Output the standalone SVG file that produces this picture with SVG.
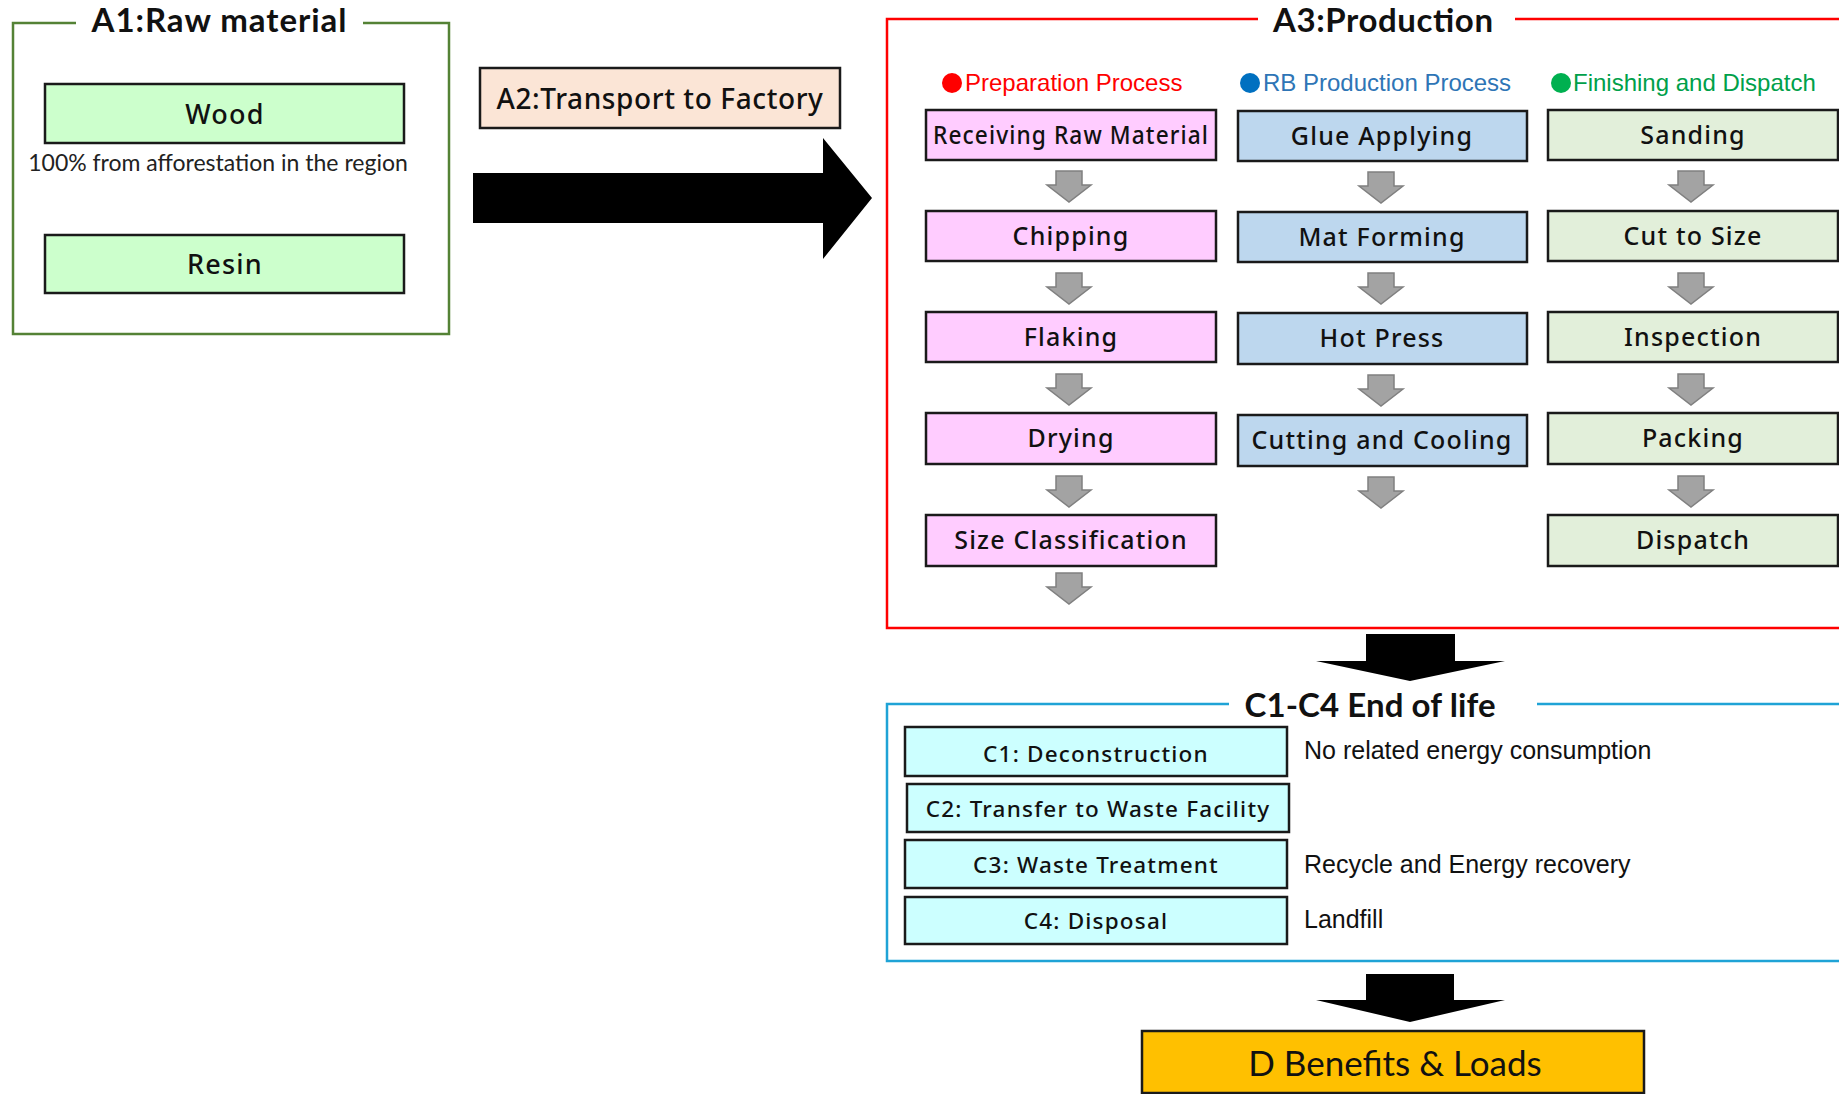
<svg xmlns="http://www.w3.org/2000/svg" width="1839" height="1094" viewBox="0 0 1839 1094">
<style>
.box{stroke:#1a1a1a;stroke-width:2.5}
.lbl{font-family:"Noto Sans","Open Sans",sans-serif;font-size:25px;letter-spacing:1.2px;fill:#111;text-anchor:middle;font-weight:500}
.clbl{font-size:22.5px}
.ttl{font-family:Lato,"Open Sans",sans-serif;font-size:33px;font-weight:bold;fill:#111}
.hdr{font-family:"Liberation Sans",Arial,sans-serif;font-size:24px}
.note{font-family:"Liberation Sans",Arial,sans-serif;font-size:25px;fill:#111}
.garrow{fill:#a3a3a3;stroke:#808080;stroke-width:1.5}
.pink{fill:#ffccff}.blue{fill:#bdd7ee}.grn{fill:#e2efda}.lg{fill:#ccffcc}.cyan{fill:#ccffff}
</style>
<defs>
<path id="ga" class="garrow" d="M-13,0 H13 V14 H22 L0,31 L-22,14 H-13 Z"/>
</defs>
<rect width="1839" height="1094" fill="#fff"/>

<g id="A1">
<path d="M76,23 H13 V334 H449 V23 H363" fill="none" stroke="#548235" stroke-width="2.5"/>
<text class="ttl" x="219" y="32" text-anchor="middle" textLength="255">A1:Raw material</text>
<g id="wood"><rect class="box lg" x="45" y="84" width="359" height="59"/><text class="lbl" x="225" y="124" style="font-size:27px">Wood</text></g>
<text x="218" y="171" text-anchor="middle" style="font-family:Lato,'Open Sans',sans-serif;font-size:23px;fill:#222">100% from afforestation in the region</text>
<g id="resin"><rect class="box lg" x="45" y="235" width="359" height="58"/><text class="lbl" x="225" y="274" style="font-size:27px">Resin</text></g>
</g>

<g id="A2">
<rect class="box" fill="#fbe5d6" x="480" y="68" width="360" height="60"/>
<text class="lbl" x="660" y="109" style="font-size:28px;letter-spacing:0.6px">A2:Transport to Factory</text>
</g>

<g id="A3">
<path d="M1258,19 H887 V628 H1839 M1515,19 H1839" fill="none" stroke="#ff0000" stroke-width="2.5"/>
<text class="ttl" x="1383" y="32" text-anchor="middle" textLength="220">A3:Production</text>
<circle cx="952" cy="83" r="10" fill="#ff0000"/>
<text class="hdr" x="965" y="91" fill="#ff0000">Preparation Process</text>
<circle cx="1250" cy="83" r="10" fill="#0070c0"/>
<text class="hdr" x="1263" y="91" fill="#2e75b6">RB Production Process</text>
<circle cx="1561" cy="83" r="10" fill="#00b050"/>
<text class="hdr" x="1573" y="91" fill="#00a04a">Finishing and Dispatch</text>

<g id="p1"><rect class="box pink" x="926" y="110" width="290" height="50"/><text class="lbl" x="1071" y="144" textLength="276" lengthAdjust="spacingAndGlyphs">Receiving Raw Material</text></g>
<g id="p2"><rect class="box pink" x="926" y="211" width="290" height="50"/><text class="lbl" x="1071" y="245">Chipping</text></g>
<g id="p3"><rect class="box pink" x="926" y="312" width="290" height="50"/><text class="lbl" x="1071" y="346">Flaking</text></g>
<g id="p4"><rect class="box pink" x="926" y="413" width="290" height="51"/><text class="lbl" x="1071" y="447">Drying</text></g>
<g id="p5"><rect class="box pink" x="926" y="515" width="290" height="51"/><text class="lbl" x="1071" y="549">Size Classification</text></g>

<g id="b1"><rect class="box blue" x="1238" y="111" width="289" height="50"/><text class="lbl" x="1382" y="145">Glue Applying</text></g>
<g id="b2"><rect class="box blue" x="1238" y="212" width="289" height="50"/><text class="lbl" x="1382" y="246">Mat Forming</text></g>
<g id="b3"><rect class="box blue" x="1238" y="313" width="289" height="51"/><text class="lbl" x="1382" y="347">Hot Press</text></g>
<g id="b4"><rect class="box blue" x="1238" y="415" width="289" height="51"/><text class="lbl" x="1382" y="449">Cutting and Cooling</text></g>

<g id="g1"><rect class="box grn" x="1548" y="110" width="290" height="50"/><text class="lbl" x="1693" y="144">Sanding</text></g>
<g id="g2"><rect class="box grn" x="1548" y="211" width="290" height="50"/><text class="lbl" x="1693" y="245">Cut to Size</text></g>
<g id="g3"><rect class="box grn" x="1548" y="312" width="290" height="50"/><text class="lbl" x="1693" y="346">Inspection</text></g>
<g id="g4"><rect class="box grn" x="1548" y="413" width="290" height="51"/><text class="lbl" x="1693" y="447">Packing</text></g>
<g id="g5"><rect class="box grn" x="1548" y="515" width="290" height="51"/><text class="lbl" x="1693" y="549">Dispatch</text></g>
</g>

<g id="C">
<path d="M1229,704 H887 V961 H1839 M1537,704 H1839" fill="none" stroke="#1fa3d6" stroke-width="2.5"/>
<text class="ttl" x="1370" y="717" text-anchor="middle" textLength="251">C1-C4 End of life</text>
<g id="c1"><rect class="box cyan" x="905" y="727" width="382" height="49"/><text class="lbl clbl" x="1096" y="762">C1: Deconstruction</text></g>
<g id="c2"><rect class="box cyan" x="907" y="784" width="382" height="48"/><text class="lbl clbl" x="1098" y="817">C2: Transfer to Waste Facility</text></g>
<g id="c3"><rect class="box cyan" x="905" y="840" width="382" height="48"/><text class="lbl clbl" x="1096" y="873">C3: Waste Treatment</text></g>
<g id="c4"><rect class="box cyan" x="905" y="897" width="382" height="47"/><text class="lbl clbl" x="1096" y="929">C4: Disposal</text></g>
<text class="note" x="1304" y="759">No related energy consumption</text>
<text class="note" x="1304" y="873">Recycle and Energy recovery</text>
<text class="note" x="1304" y="928">Landfill</text>
</g>

<g id="D">
<rect class="box" fill="#ffc000" x="1142" y="1031" width="502" height="62"/>
<text x="1395" y="1076" text-anchor="middle" style="font-family:Lato,'Open Sans',sans-serif;font-size:35px;fill:#111">D Benefits &amp; Loads</text>
</g>

<g id="connectors">
<polygon points="473,173 823,173 823,138 872,198 823,259 823,223 473,223" fill="#000"/>
<polygon points="1366,634 1455,634 1455,661 1505,661 1410,681 1316,661 1366,661" fill="#000"/>
<polygon points="1366,974 1454,974 1454,1000 1505,1000 1410,1022 1316,1000 1366,1000" fill="#000"/>
<use href="#ga" x="1069" y="171"/>
<use href="#ga" x="1069" y="273"/>
<use href="#ga" x="1069" y="374"/>
<use href="#ga" x="1069" y="476"/>
<use href="#ga" x="1069" y="573"/>
<use href="#ga" x="1381" y="172"/>
<use href="#ga" x="1381" y="273"/>
<use href="#ga" x="1381" y="375"/>
<use href="#ga" x="1381" y="477"/>
<use href="#ga" x="1691" y="171"/>
<use href="#ga" x="1691" y="273"/>
<use href="#ga" x="1691" y="374"/>
<use href="#ga" x="1691" y="476"/>
</g>
</svg>
